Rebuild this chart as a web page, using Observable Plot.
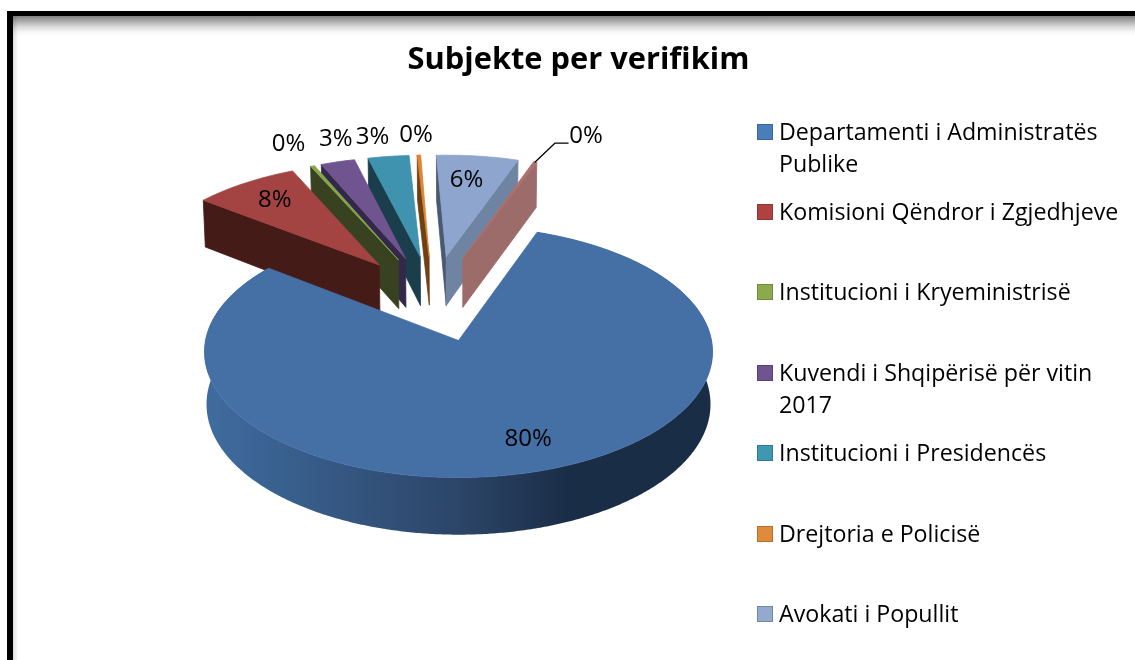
<!DOCTYPE html>
<html><head><meta charset="utf-8">
<script src="https://cdn.jsdelivr.net/npm/d3@7"></script>
<script src="https://cdn.jsdelivr.net/npm/@observablehq/plot@0.6"></script>
<style>
html,body{margin:0;padding:0;background:#fff;width:1135px;height:660px;overflow:hidden}
#frame{position:absolute;left:7px;top:11px;width:1128px;height:649px;border-left:6px solid #000;border-top:5px solid #000;box-sizing:border-box;
 background:linear-gradient(to bottom,#808080 0,#aaaaaa 5px,#dcdcdc 11px,#f6f6f6 16px,#fff 20px,#fff 100%)}
#frame:after{content:"";position:absolute;left:0;top:0;bottom:0;width:5px;background:linear-gradient(to right,#ddd,#fff);mix-blend-mode:multiply}
#chart{position:absolute;left:0;top:0}
#title{position:absolute;left:0;top:36px;width:1157px;text-align:center;font:700 30.8px "Open Sans",sans-serif;color:#000}
.lg{position:absolute;left:779px;font:23.2px/32px "Open Sans",sans-serif;color:#000;white-space:nowrap}
.sw{position:absolute;left:757px;width:14px;height:14px;border:1.5px solid}
</style></head><body>
<div id="frame"></div><div id="chart"></div><div id="title">Subjekte per verifikim</div><div id="legend"></div>
<script>
const categories=["Departamenti i Administratës Publike","Komisioni Qëndror i Zgjedhjeve","Institucioni i Kryeministrisë","Kuvendi i Shqipërisë për vitin 2017","Institucioni i Presidencës","Drejtoria e Policisë","Avokati i Popullit",""];
const values=[80,7.7,0.3,2.5,3.0,0.25,6.0,0.25];
const percentLabels=["80%","8%","0%","3%","3%","0%","6%","0%"];
const topColors=["#4570A6","#A34442","#87A64C","#6F5490","#3F93AE","#DE8433","#8EA5CD","#B0706E"];
const wallColors=["#2C4568","#451B18","#384220","#33274A","#1B3E4C","#6E4015","#6F84A3","#9C6C6B"];
const startWallColors=["#2C4568","#451B18","#384220","#33274A","#1B3E4C","#6E4015","#4A5872","#9C6C6B"];
const swatchColors=["#4A7EBB","#B0413E","#8CA94E","#6F5490","#3F97B3","#E08A3C","#93A9D0"];
const swatchEdges=["#3A6595","#8C3836","#6E8A3C","#583F78","#2F7A92","#B96F2A","#7286AC"];
const legendTops=[115,195,275,356,436,517,597];
const labelOffsets=[[-8,-33],[30,16],[-24,-23],[-2,-24],[-16,-20],[-3,-21],[-11,23],[51,-27]];

// pie geometry, in unit-circle plane coordinates
const k=0.09, depth=0.417, explode=0.367, startDeg=19.7;
const total=d3.sum(values);
const rad=d=>d*Math.PI/180;
const dir=a=>[Math.sin(rad(a)),Math.cos(rad(a))];
const proj=(u,v,z=0)=>{const w=1+k*v;return {x:(u/w)*(1-0.008*z),y:(v/w)-depth*z/w};};
let acc=startDeg;
const slices=values.map((val,i)=>{const a0=acc,a1=acc+val/total*360;acc=a1;return {i,a0,a1,mid:(a0+a1)/2};});
const mainDir=dir(slices[0].mid);
slices.forEach(s=>{const d=dir(s.mid);s.cx=explode*(d[0]-mainDir[0]);s.cy=explode*(d[1]-mainDir[1]);});
const norm=a=>{a=((a+180)%360+360)%360-180;return a;};
const rim=(s,a,z=0)=>{const d=dir(a);return proj(s.cx+d[0],s.cy+d[1],z);};
const arcAngles=s=>{const n=Math.max(2,Math.ceil((s.a1-s.a0)*2));return d3.range(n+1).map(j=>s.a0+(s.a1-s.a0)*j/n);};
const poly=(pts,fill,stroke=fill)=>Plot.line([...pts,pts[0]],{x:"x",y:"y",fill,stroke,strokeWidth:0.8,curve:"linear"});

const marks=[()=>{const g=d3.create("svg:g");
  g.html(`<defs><linearGradient id="mainSide" gradientUnits="userSpaceOnUse" x1="205" x2="712" y1="0" y2="0">
  <stop offset="0" stop-color="#3F6C9F"/><stop offset="0.5" stop-color="#2C4568"/><stop offset="0.72" stop-color="#1A2D47"/><stop offset="1" stop-color="#1A2D47"/></linearGradient></defs>`);
  return g.node();}];

const order=d3.sort(slices,s=>Math.abs(norm(s.mid)));
for(const s of order){
  const c0=proj(s.cx,s.cy), c1=proj(s.cx,s.cy,1);
  const isMain=s.i===0;
  const A=arcAngles(s);
  if(isMain){
    marks.push(poly([...A.map(a=>rim(s,a,0)),...A.slice().reverse().map(a=>rim(s,a,1))],"url(#mainSide)","none"));
  }else{
    if(norm(s.a0)<0) marks.push(poly([c0,rim(s,s.a0,0),rim(s,s.a0,1),c1],startWallColors[s.i]));
    if(norm(s.a1)>0) marks.push(poly([c0,rim(s,s.a1,0),rim(s,s.a1,1),c1],wallColors[s.i]));
  }
  marks.push(poly([c0,...A.map(a=>rim(s,a,0))],topColors[s.i]));
}
// percentage labels, anchored on each slice's rim
slices.forEach(s=>{
  const p=rim(s,s.mid);
  marks.push(Plot.text([p],{x:"x",y:"y",text:()=>percentLabels[s.i],dx:labelOffsets[s.i][0],dy:labelOffsets[s.i][1],fontSize:24,fontFamily:"Open Sans",fill:"#000"}));
});
// leader line of the last slice
const cx=458,cyy=340,R=253,S=124.7;
const lp=rim(slices[7],slices[7].mid);
marks.push(Plot.line([lp,{x:lp.x+20/R,y:lp.y+19/S},{x:lp.x+33/R,y:lp.y+19/S}],{x:"x",y:"y",stroke:"#000",strokeWidth:1.3}));

const chart=Plot.plot({width:1135,height:660,margin:0,style:{background:"transparent"},
  x:{domain:[-1,1],range:[cx-R,cx+R],axis:null},
  y:{domain:[-1,1],range:[cyy+S,cyy-S],axis:null},
  marks});
document.getElementById("chart").append(chart);

const lg=document.getElementById("legend");
categories.slice(0,7).forEach((c,i)=>{
  const t=document.createElement("div");t.className="lg";t.style.top=legendTops[i]+"px";
  t.innerHTML=c.replace(/ (Publike|2017)$/,"<br>$1");lg.append(t);
  const w=document.createElement("div");w.className="sw";w.style.top=(legendTops[i]+9)+"px";
  w.style.background=swatchColors[i];w.style.borderColor=swatchEdges[i];lg.append(w);
});
</script></body></html>
